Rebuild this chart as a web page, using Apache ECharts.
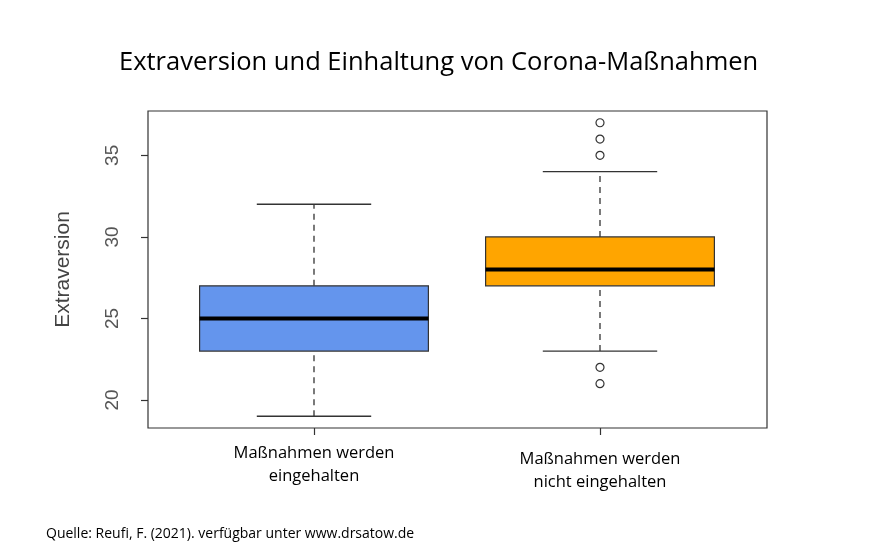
<!DOCTYPE html>
<html>
<head>
<meta charset="utf-8">
<script src="https://cdn.jsdelivr.net/npm/echarts@6/dist/echarts.min.js"></script>
<style>
  html, body { margin: 0; padding: 0; background: #fff; }
  #chart { width: 889px; height: 558px; }
</style>
</head>
<body>
<div id="chart"></div>
<script>
// groups on the x axis
const categories = ["Maßnahmen werden\neingehalten", "Maßnahmen werden\nnicht eingehalten"];
// five-number summaries per group
const whiskerLow = [19, 23];
const quartile1 = [23, 27];
const medians = [25, 28];
const quartile3 = [27, 30];
const whiskerHigh = [32, 34];
// outliers: group index and value
const outlierGroup = [1, 1, 1, 1, 1];
const outlierValues = [37, 36, 35, 22, 21];
const yTicks = [20, 25, 30, 35];
const boxColors = ["#6495ED", "#FFA500"];

const lineColor = "#333";

const boxData = categories.map((c, i) => ({
  value: [i, whiskerLow[i], quartile1[i], medians[i], quartile3[i], whiskerHigh[i]],
  itemStyle: { color: boxColors[i] }
}));
const outlierData = outlierGroup.map((g, i) => [g, outlierValues[i]]);

function renderBox(params, api) {
  const x = api.value(0);
  const p = [1, 2, 3, 4, 5].map(d => api.coord([x, api.value(d)]));
  const band = api.size([1, 0])[0];
  const cx = p[0][0];
  const halfBox = band * 0.4;
  const halfCap = band * 0.2;
  const fill = api.visual("color");
  const solid = { stroke: lineColor, lineWidth: 1.3 };
  const dashed = { stroke: lineColor, lineWidth: 1.3, lineDash: [6, 5] };
  return {
    type: "group",
    children: [
      { type: "line", shape: { x1: cx, y1: p[0][1], x2: cx, y2: p[1][1] }, style: dashed },
      { type: "line", shape: { x1: cx, y1: p[3][1], x2: cx, y2: p[4][1] }, style: dashed },
      { type: "line", shape: { x1: cx - halfCap, y1: p[0][1], x2: cx + halfCap, y2: p[0][1] }, style: solid },
      { type: "line", shape: { x1: cx - halfCap, y1: p[4][1], x2: cx + halfCap, y2: p[4][1] }, style: solid },
      {
        type: "rect",
        shape: { x: cx - halfBox, y: p[3][1], width: halfBox * 2, height: p[1][1] - p[3][1] },
        style: { fill: fill, stroke: lineColor, lineWidth: 1.2 }
      },
      { type: "line", shape: { x1: cx - halfBox, y1: p[2][1], x2: cx + halfBox, y2: p[2][1] }, style: { stroke: "#000", lineWidth: 4 } }
    ]
  };
}

const chart = echarts.init(document.getElementById("chart"), null, { renderer: "canvas" });
chart.setOption({
  backgroundColor: "#fff",
  animation: false,
  title: [
    {
      text: "Extraversion und Einhaltung von Corona-Maßnahmen",
      left: 114,
      top: 45,
      textStyle: { fontFamily: "Open Sans", fontSize: 25.5, fontWeight: "normal", color: "#000" }
    },
    {
      text: "Quelle: Reufi, F. (2021). verfügbar unter www.drsatow.de",
      left: 41,
      top: 522,
      textStyle: { fontFamily: "Open Sans", fontSize: 14, fontWeight: "normal", color: "#000" }
    }
  ],
  grid: [
    { left: 171, right: 146, top: 111, bottom: 130 },
    { left: 148, right: 122, top: 111, bottom: 130, show: true, borderColor: lineColor, borderWidth: 1.2, backgroundColor: "transparent" }
  ],
  xAxis: [
    {
      type: "category",
      gridIndex: 0,
      data: categories.map((c, i) => ({
        value: c,
        textStyle: { padding: [i * 6, 0, 0, 0] }
      })),
      boundaryGap: true,
      axisLine: { show: false },
      axisTick: { show: true, alignWithLabel: true, length: 7, lineStyle: { color: lineColor, width: 1.2 } },
      axisLabel: { margin: 14, fontFamily: "Open Sans", fontSize: 16.5, lineHeight: 23, color: "#000", interval: 0 },
      splitLine: { show: false }
    },
    { type: "value", gridIndex: 1, show: false }
  ],
  yAxis: [
    {
      type: "value",
      gridIndex: 0,
      min: 18.28,
      max: 37.72,
      offset: 23,
      name: "Extraversion",
      nameLocation: "middle",
      nameGap: 74,
      nameTextStyle: { fontFamily: "Liberation Sans", fontSize: 21, color: "#444" },
      axisLine: { show: false },
      axisTick: { show: true, length: 7, customValues: yTicks, lineStyle: { color: lineColor, width: 1.2 } },
      axisLabel: { rotate: 90, margin: 26, customValues: yTicks, fontFamily: "Liberation Sans", fontSize: 19, color: "#555" },
      splitLine: { show: false }
    },
    { type: "value", gridIndex: 1, show: false }
  ],
  series: [
    {
      type: "custom",
      xAxisIndex: 0,
      yAxisIndex: 0,
      renderItem: renderBox,
      encode: { x: 0, y: [1, 2, 3, 4, 5] },
      data: boxData
    },
    {
      type: "scatter",
      xAxisIndex: 0,
      yAxisIndex: 0,
      symbol: "circle",
      symbolSize: 8,
      itemStyle: { color: "#fff", borderColor: lineColor, borderWidth: 1.2, opacity: 1 },
      data: outlierData,
      z: 5
    }
  ]
});
</script>
</body>
</html>
